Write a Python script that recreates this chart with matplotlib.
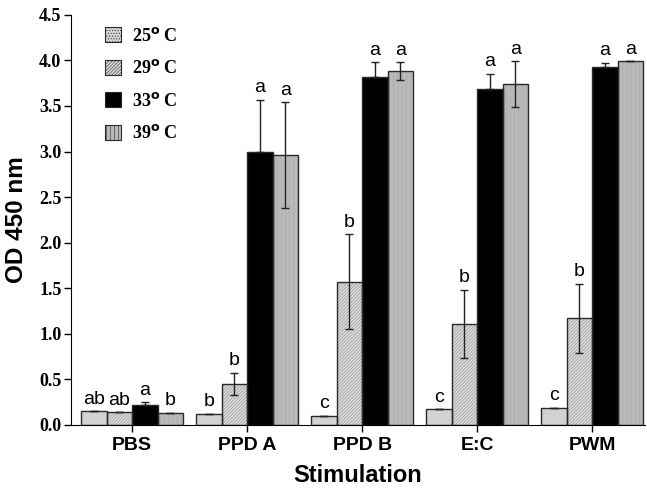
import matplotlib.pyplot as plt
import numpy as np
from matplotlib.patches import Patch

plt.rcParams['hatch.linewidth'] = 0.4

# data
groups = ["PBS", "PPD A", "PPD B", "E:C", "PWM"]
temps = ["25", "29", "33", "39"]

od_25 = [0.15, 0.12, 0.10, 0.17, 0.19]
od_29 = [0.14, 0.45, 1.57, 1.11, 1.17]
od_33 = [0.22, 3.00, 3.82, 3.69, 3.93]
od_39 = [0.13, 2.96, 3.88, 3.74, 3.99]

err_25 = [0.0, 0.0, 0.0, 0.0, 0.0]
err_29 = [0.0, 0.12, 0.52, 0.37, 0.38]
err_33 = [0.03, 0.57, 0.16, 0.16, 0.04]
err_39 = [0.0, 0.58, 0.10, 0.25, 0.0]

let_25 = ["ab", "b", "c", "c", "c"]
let_29 = ["ab", "b", "b", "b", "b"]
let_33 = ["a", "a", "a", "a", "a"]
let_39 = ["b", "a", "a", "a", "a"]

series = [
    (od_25, err_25, let_25, '#d4d4d4', '......', '#c8c8c8'),
    (od_29, err_29, let_29, '#dadada', '//////////', '#8e8e8e'),
    (od_33, err_33, let_33, '#000000', None, '#000000'),
    (od_39, err_39, let_39, '#b9b9b9', '||||', '#a9a9a9'),
]

fig = plt.figure(figsize=(6.47, 4.93), dpi=100)
ax = fig.add_axes([0.11, 0.138, 0.887, 0.832])

x = np.arange(len(groups))
w = 0.222
handles = []
for i, (vals, errs, lets, fc, hatch, hc) in enumerate(series):
    xs = x + (i - 1.5) * w
    # fill with hatch texture, then outline on top
    ax.bar(xs, vals, w, color=fc, hatch=hatch, edgecolor=hc, linewidth=0, zorder=2)
    ax.bar(xs, vals, w, fill=False, edgecolor='#2a2a2a', linewidth=1.0, zorder=3)
    if fc == '#000000':
        # lower half of the error bar disappears inside the black bar
        yerr = [np.zeros(len(errs)), errs]
    else:
        yerr = errs
    ax.errorbar(xs, vals, yerr=yerr, fmt='none', ecolor='#222222',
                elinewidth=1.0, capsize=3, capthick=1.0, zorder=4)
    for xi, v, e, t in zip(xs, vals, errs, lets):
        ax.text(xi, v + e + 0.04, t, ha='center', va='bottom',
                fontsize=14, family='Liberation Sans')
    handles.append(Patch(facecolor=fc, hatch=hatch, edgecolor='#2a2a2a', linewidth=0.8))

labels = [t + r"$^{\mathbf{o}}$ C" for t in temps]
ax.legend(handles, labels, loc='upper left', bbox_to_anchor=(0.03, 1.01),
          frameon=False, handlelength=0.9, handleheight=0.9,
          labelspacing=0.8, handletextpad=0.6,
          prop={'family': 'Liberation Serif', 'weight': 'bold', 'size': 13})

ax.set_xlim(-0.53, 4.46)
ax.set_ylim(0, 4.5)
ax.set_yticks(np.arange(0, 4.51, 0.5))
ax.set_yticklabels([f"{v:.1f}" for v in np.arange(0, 4.51, 0.5)],
                   family='Liberation Serif', fontweight='bold', fontsize=13)
ax.set_xticks(x)
ax.set_xticklabels(groups, family='Liberation Sans', fontweight='bold', fontsize=14)
ax.tick_params(axis='both', direction='out', length=5, width=1)
ax.tick_params(axis='x', pad=4)
ax.tick_params(axis='y', pad=2)

for s in ['top', 'right']:
    ax.spines[s].set_visible(False)

ax.set_ylabel("OD 450 nm", family='Liberation Sans', fontweight='bold', fontsize=17.5, labelpad=8)
ax.set_xlabel("Stimulation", family='Liberation Sans', fontweight='bold', fontsize=17, labelpad=7)

fig.savefig("out.png", dpi=100)
